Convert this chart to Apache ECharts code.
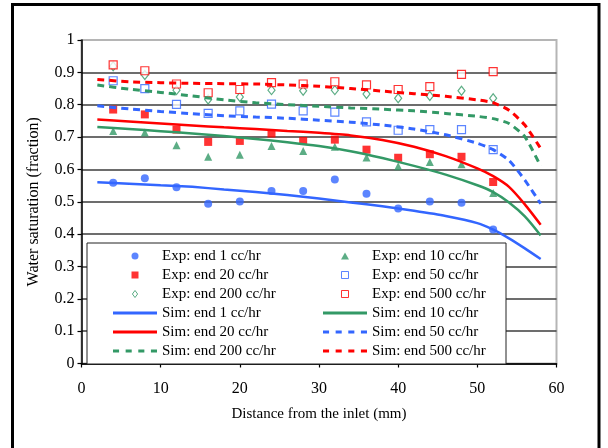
<!DOCTYPE html>
<html>
<head>
<meta charset="utf-8">
<script src="https://cdn.jsdelivr.net/npm/echarts@6/dist/echarts.min.js"></script>
<style>
  html, body { margin: 0; padding: 0; background: #fff; }
  #chart { width: 608px; height: 448px; }
</style>
</head>
<body>
<div id="chart"></div>
<script>
// Measured water saturation along the core, end-of-flood profiles
const expX = [4, 8, 12, 16, 20, 24, 28, 32, 36, 40, 44, 48, 52];
const exp1   = [0.559, 0.573, 0.545, 0.494, 0.501, 0.533, 0.533, 0.569, 0.525, 0.479, 0.501, 0.497, 0.414];
const exp10  = [0.719, 0.714, 0.675, 0.639, 0.645, 0.672, 0.657, 0.670, 0.637, 0.610, 0.623, 0.616, 0.527];
const exp20  = [0.785, 0.770, 0.723, 0.685, 0.688, 0.711, 0.688, 0.692, 0.661, 0.636, 0.647, 0.639, 0.561];
const exp50  = [0.874, 0.850, 0.801, 0.773, 0.781, 0.802, 0.781, 0.777, 0.747, 0.721, 0.723, 0.723, 0.661];
const exp200 = [0.919, 0.892, 0.845, 0.816, 0.824, 0.845, 0.843, 0.845, 0.833, 0.820, 0.827, 0.843, 0.820];
const exp500 = [0.923, 0.905, 0.864, 0.837, 0.847, 0.868, 0.864, 0.871, 0.861, 0.847, 0.856, 0.894, 0.902];

// Simulated profiles
const simX = [2, 6, 10, 14, 18, 22, 26, 30, 34, 38, 42, 46, 50, 52, 54, 56, 58];
const sim1   = [0.560, 0.556, 0.551, 0.546, 0.538, 0.530, 0.521, 0.510, 0.498, 0.486, 0.472, 0.456, 0.434, 0.414, 0.387, 0.356, 0.323];
const sim10  = [0.731, 0.725, 0.718, 0.711, 0.703, 0.694, 0.684, 0.672, 0.656, 0.635, 0.611, 0.584, 0.551, 0.530, 0.498, 0.455, 0.396];
const sim20  = [0.754, 0.748, 0.742, 0.736, 0.730, 0.725, 0.719, 0.713, 0.705, 0.691, 0.670, 0.641, 0.603, 0.579, 0.546, 0.492, 0.429];
const sim50  = [0.797, 0.787, 0.779, 0.772, 0.766, 0.762, 0.758, 0.752, 0.746, 0.737, 0.725, 0.707, 0.681, 0.661, 0.628, 0.567, 0.494];
const sim200 = [0.861, 0.848, 0.838, 0.827, 0.815, 0.806, 0.800, 0.795, 0.790, 0.786, 0.781, 0.773, 0.764, 0.757, 0.742, 0.701, 0.610];
const sim500 = [0.878, 0.871, 0.868, 0.866, 0.865, 0.864, 0.861, 0.857, 0.850, 0.842, 0.834, 0.826, 0.815, 0.806, 0.783, 0.737, 0.665];

const seriesNames = {
  exp1: 'Exp: end 1 cc/hr', exp10: 'Exp: end 10 cc/hr', exp20: 'Exp: end 20 cc/hr',
  exp50: 'Exp: end 50 cc/hr', exp200: 'Exp: end 200 cc/hr', exp500: 'Exp: end 500 cc/hr',
  sim1: 'Sim: end 1 cc/hr', sim10: 'Sim: end 10 cc/hr', sim20: 'Sim: end 20 cc/hr',
  sim50: 'Sim: end 50 cc/hr', sim200: 'Sim: end 200 cc/hr', sim500: 'Sim: end 500 cc/hr'
};
const xTitle = 'Distance from the inlet (mm)';
const yTitle = 'Water saturation (fraction)';

const BLUE = '#3366ff', RED = '#ff0000', GREEN = '#339966';
const FONT = '"Liberation Serif", "Times New Roman", serif';
const DASH = [7, 5];

const pairs = (xs, ys) => xs.map((x, i) => [x, ys[i]]);

function scatter(name, ys, symbol, size, itemStyle) {
  return { type: 'scatter', name, data: pairs(expX, ys), symbol, symbolSize: size,
           itemStyle, z: 2, emphasis: { disabled: true } };
}
function line(name, ys, color, dashed) {
  return { type: 'line', name, data: pairs(simX, ys), symbol: 'none', smooth: 0.2,
           color, z: 3,
           lineStyle: { color, width: dashed ? 3 : 2.5, type: dashed ? DASH : 'solid' },
           emphasis: { disabled: true } };
}

// legend icons (fit into the itemWidth x itemHeight box keeping aspect)
const SQ = 'path://M0,0H7V7H0Z';
const TRI = 'path://M4,0L8,7H0Z';
const DIA = 'path://M3,0L6,4L3,8L0,4Z';
const SOLID = 'path://M0,0H44V3H0Z';
const DASHED = 'path://M0,0H6V3H0ZM12.5,0H18.5V3H12.5ZM25,0H31V3H25ZM37.5,0H43.5V3H37.5Z';

const legendText = { fontFamily: FONT, fontSize: 15, lineHeight: 19, color: '#000' };
function legendCol(left, items) {
  return {
    orient: 'vertical', left, top: 246.5, padding: 0, itemGap: 0,
    itemWidth: 44, itemHeight: 7, selectedMode: false,
    textStyle: legendText,
    data: items.map(([name, icon, bw]) => ({ name, icon, itemStyle: { borderWidth: bw } }))
  };
}

const option = {
  animation: false,
  backgroundColor: '#fff',
  grid: { left: 81.5, right: 51.5, top: 40, bottom: 84.5, show: true,
          borderColor: '#b5b5b5', borderWidth: 2, backgroundColor: 'transparent' },
  xAxis: {
    type: 'value', min: 0, max: 60, interval: 10,
    name: xTitle, nameLocation: 'middle', nameGap: 43,
    nameTextStyle: { fontFamily: FONT, fontSize: 15, color: '#000' },
    axisLine: { show: true, onZero: false, lineStyle: { color: '#000', width: 1.5 } },
    axisTick: { show: true, length: 4, lineStyle: { color: '#000', width: 1.2 } },
    axisLabel: { margin: 17, fontFamily: FONT, fontSize: 16, color: '#000' },
    splitLine: { show: false }
  },
  yAxis: {
    type: 'value', min: 0, max: 1, interval: 0.1,
    name: yTitle, nameLocation: 'middle', nameGap: 40, nameRotate: 90,
    nameTextStyle: { fontFamily: FONT, fontSize: 16, color: '#000' },
    axisLine: { show: true, onZero: false, lineStyle: { color: '#000', width: 1.5 } },
    axisTick: { show: true, length: 4, lineStyle: { color: '#000', width: 1.2 } },
    axisLabel: { margin: 7, fontFamily: FONT, fontSize: 16, color: '#000' },
    splitLine: { show: true, showMaxLine: false, lineStyle: { color: '#3c3c3c', width: 1.5 } }
  },
  legend: [
    legendCol(113, [
      [seriesNames.exp1, 'circle', 0], [seriesNames.exp20, SQ, 0], [seriesNames.exp200, DIA, 1],
      [seriesNames.sim1, SOLID, 0], [seriesNames.sim20, SOLID, 0], [seriesNames.sim200, DASHED, 0]
    ]),
    legendCol(323, [
      [seriesNames.exp10, TRI, 0], [seriesNames.exp50, SQ, 1], [seriesNames.exp500, SQ, 1],
      [seriesNames.sim10, SOLID, 0], [seriesNames.sim50, DASHED, 0], [seriesNames.sim500, DASHED, 0]
    ])
  ],
  graphic: [
    // legend frame
    { type: 'rect', z: 3, shape: { x: 87, y: 243, width: 419, height: 121 },
      style: { fill: '#fff', stroke: '#222', lineWidth: 1 } },
    // outer chart frame
    { type: 'rect', z: 10, shape: { x: 12.5, y: 4.5, width: 586.5, height: 480 },
      style: { fill: 'none', stroke: '#000', lineWidth: 3 } }
  ],
  series: [
    scatter(seriesNames.exp1, exp1, 'circle', 8, { color: BLUE }),
    scatter(seriesNames.exp10, exp10, 'triangle', [8, 8], { color: GREEN }),
    scatter(seriesNames.exp20, exp20, 'rect', 8, { color: RED }),
    scatter(seriesNames.exp50, exp50, 'rect', 8, { color: '#fff', borderColor: BLUE, borderWidth: 1.2 }),
    scatter(seriesNames.exp200, exp200, 'diamond', [7, 9], { color: '#fff', borderColor: GREEN, borderWidth: 1.2 }),
    scatter(seriesNames.exp500, exp500, 'rect', 8, { color: '#fff', borderColor: RED, borderWidth: 1.2 }),
    line(seriesNames.sim1, sim1, BLUE, false),
    line(seriesNames.sim10, sim10, GREEN, false),
    line(seriesNames.sim20, sim20, RED, false),
    line(seriesNames.sim50, sim50, BLUE, true),
    line(seriesNames.sim200, sim200, GREEN, true),
    line(seriesNames.sim500, sim500, RED, true)
  ]
};

const chart = echarts.init(document.getElementById('chart'), null, { renderer: 'canvas' });
chart.setOption(option);
</script>
</body>
</html>
